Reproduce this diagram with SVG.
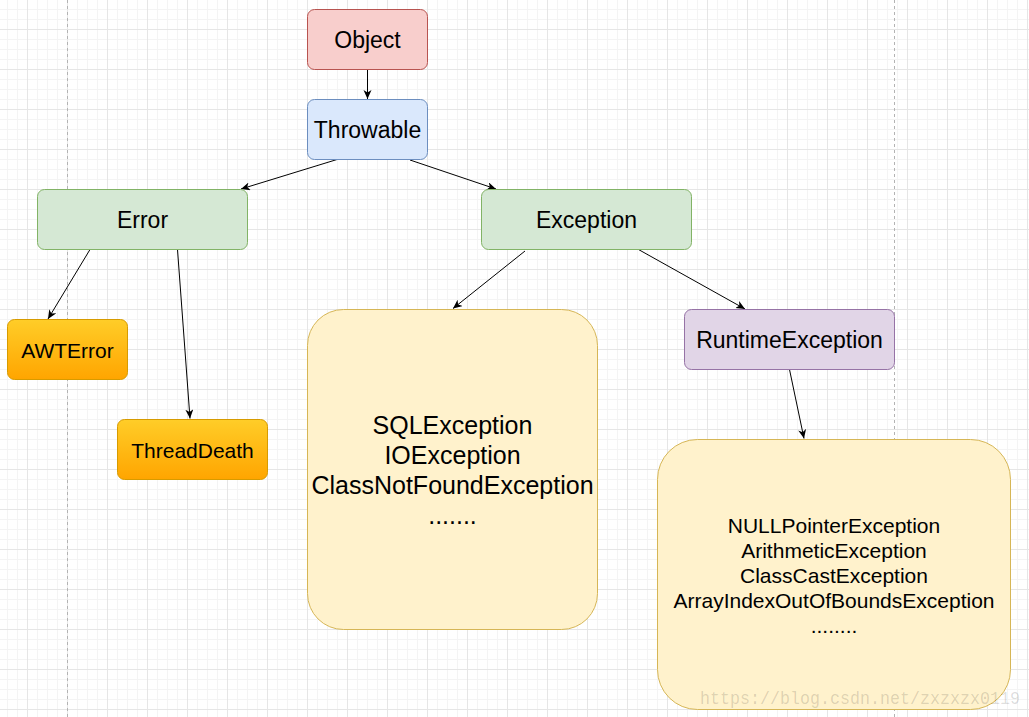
<svg xmlns="http://www.w3.org/2000/svg" width="1029" height="717" viewBox="0 0 1029 717">
<style>
.t{font-family:"Liberation Sans",Arial,sans-serif;fill:#000;text-anchor:middle}
.edge{stroke:#000;stroke-width:1;fill:none;marker-end:url(#arr)}
</style>
<defs>
<pattern id="minor" x="7" y="9" width="10" height="10" patternUnits="userSpaceOnUse">
<rect x="0" y="0" width="1" height="10" fill="#f4f4f4"/>
<rect x="0" y="0" width="10" height="1" fill="#f4f4f4"/>
</pattern>
<pattern id="major" x="27" y="29" width="40" height="40" patternUnits="userSpaceOnUse">
<rect x="0" y="0" width="1" height="40" fill="#e6e6e6"/>
<rect x="0" y="0" width="40" height="1" fill="#e6e6e6"/>
</pattern>
<linearGradient id="orange" x1="0" y1="0" x2="0" y2="1">
<stop offset="0" stop-color="#ffcd28"/>
<stop offset="1" stop-color="#ffa500"/>
</linearGradient>
<marker id="arr" markerUnits="userSpaceOnUse" markerWidth="12" markerHeight="10" refX="9" refY="4" orient="auto">
<path d="M0,0 L9,4 L0,8 L2.5,4 z" fill="#000"/>
</marker>
</defs>
<rect width="1029" height="717" fill="#fff"/>
<rect width="1029" height="717" fill="url(#minor)"/>
<rect width="1029" height="717" fill="url(#major)"/>
<line x1="67.5" y1="0" x2="67.5" y2="717" stroke="#b3b3b3" stroke-dasharray="3 3"/>
<line x1="894.5" y1="0" x2="894.5" y2="717" stroke="#b3b3b3" stroke-dasharray="3 3"/>

<g id="connectors">
<line class="edge" x1="367.5" y1="69" x2="367.5" y2="99"/>
<line class="edge" x1="337" y1="159.5" x2="241" y2="189"/>
<line class="edge" x1="410" y1="160" x2="496" y2="189"/>
<line class="edge" x1="90" y1="249.5" x2="48" y2="319"/>
<line class="edge" x1="177.5" y1="249.5" x2="190" y2="418.5"/>
<line class="edge" x1="525" y1="251" x2="453" y2="308.5"/>
<line class="edge" x1="638.5" y1="249.5" x2="745" y2="309"/>
<line class="edge" x1="789.5" y1="369.5" x2="804" y2="438.5"/>
</g>

<g id="object">
<rect x="307.5" y="9.5" width="120" height="60" rx="7" fill="#f8cecc" stroke="#b85450"/>
<text class="t" x="367.5" y="47.5" font-size="23">Object</text>
</g>
<g id="throwable">
<rect x="307.5" y="99.5" width="120" height="60" rx="7" fill="#dae8fc" stroke="#6c8ebf"/>
<text class="t" x="367.5" y="137.5" font-size="23">Throwable</text>
</g>
<g id="error">
<rect x="37.5" y="189.5" width="210" height="60" rx="7" fill="#d5e8d4" stroke="#82b366"/>
<text class="t" x="142.5" y="227.5" font-size="23">Error</text>
</g>
<g id="exception">
<rect x="481.5" y="189.5" width="210" height="60" rx="7" fill="#d5e8d4" stroke="#82b366"/>
<text class="t" x="586.5" y="227.5" font-size="23">Exception</text>
</g>
<g id="awterror">
<rect x="7.5" y="319.5" width="120" height="60" rx="7" fill="url(#orange)" stroke="#d79b00"/>
<text class="t" x="67.5" y="357.5" font-size="21">AWTError</text>
</g>
<g id="threaddeath">
<rect x="117.5" y="419.5" width="150" height="60" rx="7" fill="url(#orange)" stroke="#d79b00"/>
<text class="t" x="192.5" y="457.5" font-size="21">ThreadDeath</text>
</g>
<g id="checked">
<rect x="307.5" y="309.5" width="290" height="320" rx="36" fill="#fff2cc" stroke="#d6b656"/>
<text class="t" x="452.5" y="433.5" font-size="25">SQLException</text>
<text class="t" x="452.5" y="463.5" font-size="25">IOException</text>
<text class="t" x="452.5" y="493.5" font-size="25">ClassNotFoundException</text>
<text class="t" x="452.5" y="523.5" font-size="25">.......</text>
</g>
<g id="runtime">
<rect x="684.5" y="309.5" width="210" height="60" rx="7" fill="#e1d5e7" stroke="#9673a6"/>
<text class="t" x="789.5" y="347.5" font-size="23">RuntimeException</text>
</g>
<g id="unchecked">
<rect x="657.5" y="439.5" width="353" height="270" rx="40" fill="#fff2cc" stroke="#d6b656"/>
<text class="t" x="834" y="532.5" font-size="21">NULLPointerException</text>
<text class="t" x="834" y="557.5" font-size="21">ArithmeticException</text>
<text class="t" x="834" y="582.5" font-size="21">ClassCastException</text>
<text class="t" x="834" y="607.5" font-size="21">ArrayIndexOutOfBoundsException</text>
<text class="t" x="834" y="632.5" font-size="21">........</text>
</g>
<text x="700" y="704" font-family="'Liberation Mono',monospace" font-size="19" textLength="320" lengthAdjust="spacingAndGlyphs" fill="#000" fill-opacity="0.14">https://blog.csdn.net/zxzxzx0119</text>
</svg>
